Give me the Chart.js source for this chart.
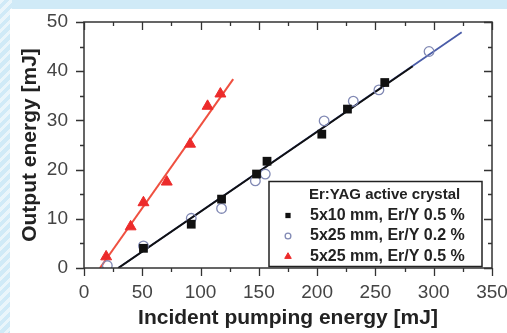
<!DOCTYPE html>
<html>
<head>
<meta charset="utf-8">
<script src="https://cdn.jsdelivr.net/npm/chart.js@4"></script>
<style>
  html, body { margin: 0; padding: 0; width: 507px; height: 333px; overflow: hidden; }
  body {
    background:
      repeating-linear-gradient(135deg, rgba(255,255,255,0.55) 0 3px, rgba(255,255,255,0) 3px 7px) 0 0 / 12px 100% no-repeat,
      #d0eaf7;
  }
  #panel { position: absolute; left: 10px; top: 9px; width: 497px; height: 324px; background: #fff; }
  canvas { display: block; }
</style>
</head>
<body>
<div id="panel"><canvas id="chart" width="497" height="324"></canvas></div>
<script>
/* ---- data ---- */
const squaresX = [51, 92, 118, 148, 157, 204, 226, 258];
const squaresY = [4.0, 8.9, 14.0, 19.1, 21.7, 27.2, 32.3, 37.7];

const circlesX = [20, 51, 92, 118, 147, 155.5, 206, 231, 253, 296];
const circlesY = [0.5, 4.5, 10.1, 12.1, 17.7, 19.1, 29.9, 33.9, 36.2, 44.0];

const trianglesX = [19, 40, 51, 71, 91, 106, 117];
const trianglesY = [2.3, 8.4, 13.3, 17.5, 25.2, 32.9, 35.4];

// linear fits, endpoints
const fitRedX = [13.7, 128];
const fitRedY = [0, 38.4];
const fitBlackX = [29.4, 282];
const fitBlackY = [0, 41];
const fitBlueX = [29.4, 324];
const fitBlueY = [0, 47.9];

const xTicks = [0, 50, 100, 150, 200, 250, 300, 350];
const yTicks = [0, 10, 20, 30, 40, 50];

const legendTitle = "Er:YAG active crystal";
const seriesLabels = ["5x10 mm, Er/Y 0.5 %", "5x25 mm, Er/Y 0.2 %", "5x25 mm, Er/Y 0.5 %"];

const FONT = "'Liberation Sans', Arial, sans-serif";

const pts = (xs, ys) => xs.map((x, i) => ({ x: x, y: ys[i] }));

// frame + ticks on all four sides (minor ticks halfway between majors)
const frameTicks = {
  id: "frameTicks",
  afterDatasetsDraw(chart) {
    const { ctx, chartArea: a, scales: { x, y } } = chart;
    ctx.save();
    ctx.strokeStyle = "#333";
    ctx.lineWidth = 1.5;
    ctx.strokeRect(a.left, a.top, a.right - a.left, a.bottom - a.top);
    ctx.lineWidth = 1.3;
    ctx.beginPath();
    const xStep = xTicks[1] - xTicks[0];
    const yStep = yTicks[1] - yTicks[0];
    for (let v = xTicks[0]; v <= xTicks[xTicks.length - 1] + 0.01; v += xStep / 2) {
      const len = xTicks.includes(v) ? 8 : 4;
      const px = Math.round(x.getPixelForValue(v)) + 0.5;
      ctx.moveTo(px, a.bottom); ctx.lineTo(px, a.bottom + len);
      ctx.moveTo(px, a.top); ctx.lineTo(px, a.top + len);
    }
    for (let v = yTicks[0]; v <= yTicks[yTicks.length - 1] + 0.01; v += yStep / 2) {
      const len = yTicks.includes(v) ? 8 : 4;
      const py = Math.round(y.getPixelForValue(v)) + 0.5;
      ctx.moveTo(a.left, py); ctx.lineTo(a.left - len, py);
      ctx.moveTo(a.right, py); ctx.lineTo(a.right - len, py);
    }
    ctx.stroke();
    ctx.restore();
  },
};

// boxed legend in the lower right of the plot
const boxLegend = {
  id: "boxLegend",
  afterDraw(chart) {
    const { ctx, chartArea: a } = chart;
    const w = 213, h = 85;
    const right = a.right - 10, bottom = a.bottom - 1.5;
    const left = right - w, top = bottom - h;
    ctx.save();
    ctx.fillStyle = "#fff";
    ctx.fillRect(left, top, w, h);
    ctx.strokeStyle = "#222";
    ctx.lineWidth = 1.5;
    ctx.strokeRect(left, top, w, h);

    ctx.font = "bold 15px " + FONT;
    ctx.fillStyle = "#222";
    ctx.textBaseline = "middle";
    ctx.fillText(legendTitle, left + 40, top + 13);
    ctx.font = "bold 16px " + FONT;
    for (let i = 0; i < 3; i++) {
      const ds = chart.data.datasets[i];
      const cy = top + 34 + i * 20.5;
      const opts = {
        pointStyle: ds.pointStyle,
        radius: ds.pointRadius * 0.6,
        rotation: 0,
        borderWidth: ds.pointBorderWidth,
      };
      ctx.fillStyle = ds.pointBackgroundColor;
      ctx.strokeStyle = ds.pointBorderColor;
      ctx.lineWidth = ds.pointBorderWidth;
      Chart.helpers.drawPoint(ctx, opts, left + 19, cy);
      ctx.fillStyle = "#222";
      ctx.fillText(seriesLabels[i], left + 41, cy);
    }
    ctx.restore();
  },
};

const ctx = document.getElementById("chart").getContext("2d");
const chart = new Chart(ctx, {
  type: "scatter",
  data: {
    datasets: [
      {
        label: seriesLabels[0],
        data: pts(squaresX, squaresY),
        pointStyle: "rect",
        pointRadius: 6.2,
        pointBackgroundColor: "#111",
        pointBorderColor: "#111",
        pointBorderWidth: 0,
      },
      {
        label: seriesLabels[1],
        data: pts(circlesX, circlesY),
        pointStyle: "circle",
        pointRadius: 4.8,
        pointBackgroundColor: "rgba(255,255,255,0)",
        pointBorderColor: "#8189b4",
        pointBorderWidth: 1.3,
      },
      {
        label: seriesLabels[2],
        data: pts(trianglesX, trianglesY),
        pointStyle: "triangle",
        pointRadius: 6.3,
        pointBackgroundColor: "#ec2b2b",
        pointBorderColor: "#ec2b2b",
        pointBorderWidth: 1,
      },
      {
        label: "fit red",
        data: pts(fitRedX, fitRedY),
        showLine: true,
        pointRadius: 0,
        borderColor: "#ef5040",
        borderWidth: 2,
      },
      {
        label: "fit black",
        data: pts(fitBlackX, fitBlackY),
        showLine: true,
        pointRadius: 0,
        borderColor: "#111",
        borderWidth: 2,
      },
      {
        label: "fit blue",
        data: pts(fitBlueX, fitBlueY),
        showLine: true,
        pointRadius: 0,
        borderColor: "#4a5ca8",
        borderWidth: 1.8,
      },
    ],
  },
  options: {
    responsive: false,
    animation: false,
    devicePixelRatio: 1,
    layout: { padding: { top: 13, right: 15, left: 0, bottom: 0 } },
    plugins: { legend: { display: false }, tooltip: { enabled: false } },
    scales: {
      x: {
        type: "linear",
        min: 0,
        max: 350,
        afterFit: (s) => { s.height = 65; s.paddingLeft = 0; s.paddingRight = 0; },
        afterBuildTicks: (s) => { s.ticks = xTicks.map((v) => ({ value: v })); },
        grid: { display: false, tickLength: 8 },
        border: { display: false },
        ticks: { padding: 5, color: "#444", font: { family: FONT, size: 19 } },
        title: {
          display: true,
          text: "Incident pumping energy [mJ]",
          color: "#222",
          font: { family: FONT, size: 21, weight: "bold" },
          padding: { top: 0, bottom: 2 },
        },
      },
      y: {
        type: "linear",
        min: 0,
        max: 50,
        afterFit: (s) => { s.width = 74; s.paddingTop = 0; s.paddingBottom = 0; },
        afterBuildTicks: (s) => { s.ticks = yTicks.map((v) => ({ value: v })); },
        grid: { display: false, tickLength: 8 },
        border: { display: false },
        ticks: { padding: 8, color: "#444", font: { family: FONT, size: 19 } },
        title: {
          display: true,
          text: "Output energy [mJ]",
          color: "#222",
          font: { family: FONT, size: 21, weight: "bold" },
          padding: { top: 8, bottom: 0 },
        },
      },
    },
  },
  plugins: [frameTicks, boxLegend],
});
</script>
</body>
</html>
